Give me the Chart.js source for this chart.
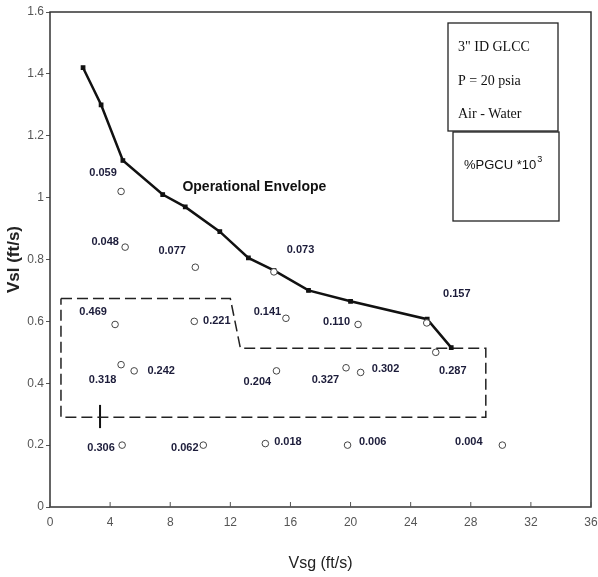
<!DOCTYPE html>
<html>
<head>
<meta charset="utf-8">
<script src="https://cdn.jsdelivr.net/npm/chart.js@4/dist/chart.umd.min.js"></script>
<style>
  html, body { margin: 0; padding: 0; background: #fff; }
  canvas { display: block; }
</style>
</head>
<body>
<canvas id="chart1" width="598" height="577"></canvas>
<script>
  "use strict";

  // operational envelope (solid line)
  var envX = [2.2, 3.4, 4.85, 7.5, 9.0, 11.3, 13.2, 14.9, 17.2, 20.0, 25.1, 26.7];
  var envY = [1.42, 1.30, 1.12, 1.01, 0.97, 0.89, 0.805, 0.765, 0.70, 0.665, 0.607, 0.515];

  // measured points (open circles) and their %PGCU*10^3 labels
  var ptX = [4.73, 5.0, 9.67, 14.9, 25.07, 4.33, 9.6, 15.7, 20.5, 4.73, 5.6, 15.07, 19.7, 20.67, 25.67, 4.8, 10.2, 14.33, 19.8, 30.1];
  var ptY = [1.02, 0.84, 0.775, 0.76, 0.595, 0.59, 0.60, 0.61, 0.59, 0.46, 0.44, 0.44, 0.45, 0.435, 0.50, 0.20, 0.20, 0.205, 0.20, 0.20];
  var ptLabels = ["0.059", "0.048", "0.077", "0.073", "0.157", "0.469", "0.221", "0.141", "0.110", "0.318", "0.242", "0.204", "0.327", "0.302", "0.287", "0.306", "0.062", "0.018", "0.006", "0.004"];
  var labelX = [3.53, 3.67, 8.13, 16.67, 27.07, 2.87, 11.1, 14.47, 19.07, 3.5, 7.4, 13.8, 18.33, 22.33, 26.8, 3.4, 8.97, 15.83, 21.47, 27.87];
  var labelY = [1.08, 0.858, 0.826, 0.832, 0.69, 0.632, 0.60, 0.632, 0.597, 0.41, 0.44, 0.405, 0.41, 0.445, 0.44, 0.19, 0.19, 0.21, 0.21, 0.21];

  // dashed region
  var boxX = [0.73, 12.0, 12.67, 29.0, 29.0, 0.73, 0.73];
  var boxY = [0.674, 0.674, 0.513, 0.513, 0.29, 0.29, 0.674];

  // small cross mark on the dashed line
  var markX = [3.33, 3.33];
  var markY = [0.255, 0.33];

  var xTicks = [0, 4, 8, 12, 16, 20, 24, 28, 32, 36];
  var yTicks = [0, 0.2, 0.4, 0.6, 0.8, 1, 1.2, 1.4, 1.6];

  function pts(xs, ys) {
    return xs.map(function (x, i) { return { x: x, y: ys[i] }; });
  }

  var narrow = "'Liberation Sans Narrow', 'Arial Narrow', 'Liberation Sans', sans-serif";

  var extras = {
    id: 'extras',
    afterDraw: function (chart) {
      var c = chart.ctx, a = chart.chartArea;
      var xs = chart.scales.x, ys = chart.scales.y;
      c.save();
      // frame
      c.strokeStyle = '#333';
      c.lineWidth = 1.5;
      c.strokeRect(a.left, a.top, a.right - a.left, a.bottom - a.top);
      // inward x ticks
      c.lineWidth = 1;
      c.strokeStyle = '#555';
      xTicks.forEach(function (t) {
        var px = xs.getPixelForValue(t);
        c.beginPath(); c.moveTo(px, a.bottom); c.lineTo(px, a.bottom - 5); c.stroke();
      });
      // point labels
      c.fillStyle = '#1c1c3a';
      c.font = 'bold 11px ' + narrow;
      c.textAlign = 'center';
      c.textBaseline = 'middle';
      ptLabels.forEach(function (s, i) {
        c.fillText(s, xs.getPixelForValue(labelX[i]), ys.getPixelForValue(labelY[i]));
      });
      // annotation text
      c.fillStyle = '#111';
      c.font = 'bold 14px ' + narrow;
      c.fillText('Operational Envelope', xs.getPixelForValue(13.6), ys.getPixelForValue(1.035));
      // legend boxes
      c.strokeStyle = '#222';
      c.lineWidth = 1.3;
      c.strokeRect(448, 23, 110, 108);
      c.strokeRect(453, 132, 106, 89);
      c.textAlign = 'left';
      c.font = '14px "Liberation Serif", serif';
      c.fillText('3" ID GLCC', 458, 47);
      c.fillText('P = 20 psia', 458, 81);
      c.fillText('Air - Water', 458, 114);
      c.font = '13px ' + narrow;
      c.fillText('%PGCU *10', 464, 165);
      var w = c.measureText('%PGCU *10').width;
      c.font = '9px ' + narrow;
      c.fillText('3', 464 + w + 1, 160);
      c.restore();
    }
  };

  var ctx = document.getElementById('chart1').getContext('2d');

  var myChart = new Chart(ctx, {
    type: 'scatter',
    data: {
      datasets: [{
        label: 'Envelope',
        data: pts(envX, envY),
        showLine: true,
        borderColor: '#111',
        backgroundColor: '#111',
        borderWidth: 2.5,
        pointStyle: 'rect',
        pointRadius: 2.5,
        pointBorderWidth: 1.2,
        pointBorderColor: '#111',
        pointBackgroundColor: '#111',
        order: 1
      },
      {
        label: 'Points',
        data: pts(ptX, ptY),
        showLine: false,
        pointStyle: 'circle',
        pointRadius: 3.3,
        pointBorderWidth: 1,
        pointBorderColor: '#444',
        pointBackgroundColor: '#fff',
        order: 0
      },
      {
        label: 'Region',
        data: pts(boxX, boxY),
        showLine: true,
        borderColor: '#222',
        borderWidth: 1.5,
        borderDash: [11, 5],
        pointRadius: 0,
        order: 2
      },
      {
        label: 'Mark',
        data: pts(markX, markY),
        showLine: true,
        borderColor: '#111',
        borderWidth: 2,
        pointRadius: 0,
        order: 2
      }]
    },
    options: {
      responsive: false,
      animation: false,
      layout: { padding: { left: 0, right: 7, top: 12, bottom: 0 } },
      plugins: {
        legend: { display: false },
        tooltip: { enabled: false }
      },
      scales: {
        x: {
          type: 'linear',
          min: 0,
          max: 36,
          afterBuildTicks: function (s) { s.ticks = xTicks.map(function (v) { return { value: v }; }); },
          afterFit: function (s) { s.height = 70; s.paddingRight = 0; s.paddingLeft = 0; },
          ticks: {
            color: '#555',
            font: { family: narrow, size: 12 },
            padding: 8,
            callback: function (v) { return String(v); }
          },
          grid: { display: false, drawTicks: false },
          border: { display: false },
          title: {
            display: true,
            text: 'Vsg (ft/s)',
            color: '#222',
            font: { family: "'Liberation Sans', sans-serif", size: 16 },
            padding: { top: 6 }
          }
        },
        y: {
          type: 'linear',
          min: 0,
          max: 1.6,
          afterBuildTicks: function (s) { s.ticks = yTicks.map(function (v) { return { value: v }; }); },
          afterFit: function (s) { s.width = 50; },
          ticks: {
            color: '#555',
            font: { family: narrow, size: 12 },
            padding: 2,
            callback: function (v) { return String(v); }
          },
          grid: { drawOnChartArea: false, tickLength: 4, color: '#555' },
          border: { display: false },
          title: {
            display: true,
            text: 'Vsl (ft/s)',
            color: '#222',
            font: { family: "'Liberation Sans', sans-serif", size: 17, weight: 'bold' },
            padding: { bottom: 2 }
          }
        }
      }
    },
    plugins: [extras]
  });
</script>
</body>
</html>
